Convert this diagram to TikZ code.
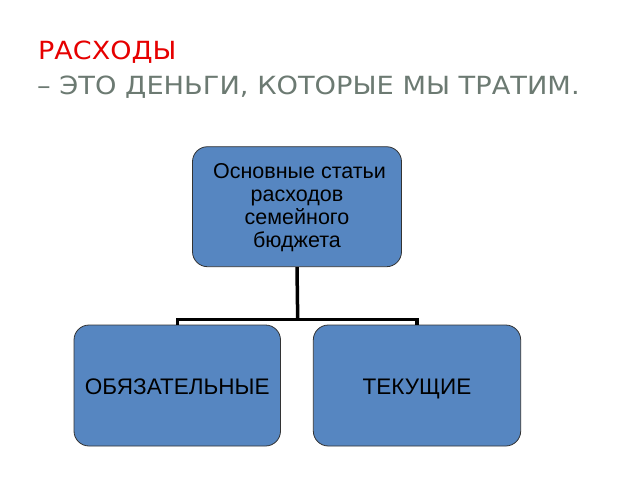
\documentclass[tikz,border=0pt]{standalone}
\usepackage{fontspec}
\setmainfont{Liberation Sans}
\newfontfamily\titlefont[FakeStretch=1.08]{DejaVu Sans}
\newfontfamily\titlefontb[FakeStretch=1.09]{DejaVu Sans}
\definecolor{boxblue}{RGB}{86,134,193}
\definecolor{titlered}{RGB}{230,0,0}
\definecolor{titlegrey}{RGB}{108,122,114}
\begin{document}
\begin{tikzpicture}[x=1pt,y=-1pt,
  catbox/.style={draw=black!80, line width=0.8pt, fill=boxblue, rounded corners=15pt, inner sep=0pt},
  boxtext/.style={align=center, text=black, inner sep=0pt},
  conn/.style={line width=3.5pt, black}]
\useasboundingbox (0,0) rectangle (640,480);
\fill[white] (0,0) rectangle (640,480);
\node[anchor=base west, text=titlered, font=\titlefont\fontsize{25}{28}\selectfont, inner sep=0pt] (t1) at (38,59) {РАСХОДЫ};
\node[anchor=base west, text=titlegrey, font=\titlefontb\fontsize{25}{28}\selectfont, inner sep=0pt] (t2) at (37,94) {– ЭТО ДЕНЬГИ, КОТОРЫЕ МЫ ТРАТИМ.};
\node[catbox, minimum width=209pt, minimum height=120pt] (top) at (297,206.7) {};
\node[boxtext, font=\fontsize{21.5}{23}\selectfont] (toptxt) at ([yshift=-1pt]top.center) {\hspace*{5pt}Основные статьи\\расходов\hspace*{14pt}\\семейного\hspace*{17pt}\\бюджета};
\node[catbox, minimum width=206.5pt, minimum height=121pt] (left) at (177.25,385.5) {};
\node[boxtext, anchor=base, font=\fontsize{22.5}{26}\selectfont] (lefttxt) at ([yshift=-9pt]left.center) {ОБЯЗАТЕЛЬНЫЕ};
\node[catbox, minimum width=207.4pt, minimum height=121pt] (right) at (417,385.5) {};
\node[boxtext, anchor=base, font=\fontsize{22.5}{26}\selectfont] (righttxt) at ([yshift=-9pt]right.center) {ТЕКУЩИЕ};
\coordinate (j) at (297.7,319.7);
\draw[conn] (top.south) -- (j);
\draw[conn] (left.north) -- (left.north |- j) -- (right.north |- j) -- (right.north);
\end{tikzpicture}
\end{document}
